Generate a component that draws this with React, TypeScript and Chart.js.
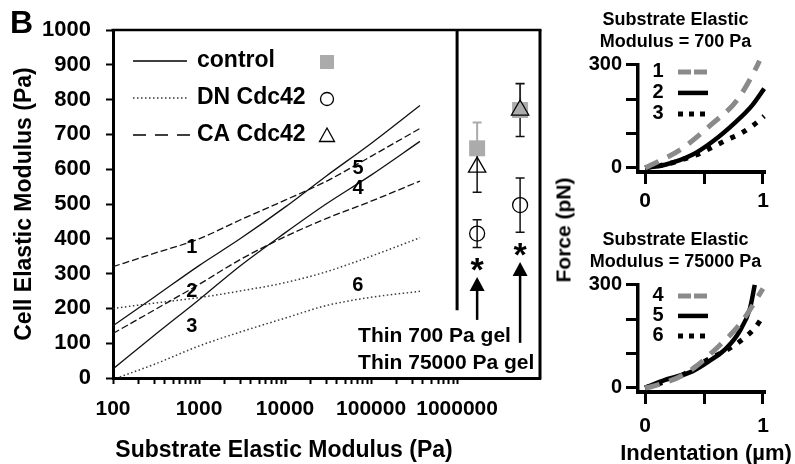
import React, { useEffect, useRef } from "react";
import { Chart, registerables } from "chart.js";

Chart.register(...registerables);

const FONT = "'Liberation Sans', Arial, Helvetica, sans-serif";
const MARKER_GRAY = "#ababab";
const CURVE_GRAY = "#8a8a8a";

// ---------- Main panel: cell modulus vs substrate modulus ----------
const substrateX = [100, 300, 1000, 3000, 10000, 30000, 100000, 370000];
const dnLowerX = [120, 300, 1000, 3000, 10000, 30000, 100000, 370000];
const controlUpper = [150, 232, 323, 400, 491, 580, 674, 783];
const controlLower = [26, 122, 225, 322, 417, 500, 583, 680];
const caUpper = [320, 358, 400, 454, 511, 565, 637, 717];
const caLower = [128, 195, 269, 340, 406, 458, 508, 566];
const dnUpper = [200, 215, 231, 250, 274, 305, 350, 403];
const dnLower = [3, 39, 92, 132, 172, 208, 232, 249];

const gelX = [1.71e6, 5.4e6];
const gelNames = ["Thin 700 Pa gel", "Thin 75000 Pa gel"];
const controlMean = [660, 770];
const controlErr = [74, 75];
const caMean = [606, 770];
const caErr = [72, 76];
const dnMean = [415, 497];
const dnErr = [40, 78];
const starY = [333, 376];
const arrowTipY = [290, 333];
const arrowTailY = [167, 101];
const gelLabelX = 70600;
const gelLabelY = [121, 43];
const dividerX = 1e6;
const dividerBottomY = 195;

const curveLabels = ["1", "2", "3", "4", "5", "6"];
const curveLabelX = [822, 822, 822, 70600, 70600, 70000];
const curveLabelY = [374, 248, 147, 546, 603, 267];

const legendNames = ["control", "DN Cdc42", "CA Cdc42"];

const yTicksMain = [0, 100, 200, 300, 400, 500, 600, 700, 800, 900, 1000];
const xMajor = [100, 1000, 10000, 100000, 1000000];

// ---------- Right panels: force vs indentation ----------
const indentTicks = [0, 0.5, 1];
const indentLabels = [0, 1];
const forceTicks = [0, 100, 200, 300];
const forceLabels = [0, 300];

const ca700X = [0, 0.07, 0.32, 0.57, 0.78, 0.95, 0.97];
const ca700F = [0, 11, 58, 129, 197, 297, 312];
const control700X = [0, 0.17, 0.4, 0.57, 0.77, 0.91, 1.01];
const control700F = [0, 9, 38, 76, 134, 183, 231];
const dn700X = [0, 0.2, 0.35, 0.47, 0.58, 0.69, 0.81, 0.92, 1.01];
const dn700F = [0, 12, 28, 43, 62, 81, 100, 125, 151];

const ca75kX = [0, 0.06, 0.35, 0.62, 0.82, 1.0];
const ca75kF = [0, 4, 43, 120, 193, 289];
const control75kX = [0, 0.17, 0.4, 0.54, 0.69, 0.8, 0.89, 0.93];
const control75kF = [0, 23, 48, 77, 116, 164, 232, 300];
const dn75kX = [0, 0.3, 0.53, 0.64, 0.74, 0.84, 0.93, 1.0];
const dn75kF = [0, 35, 82, 101, 120, 145, 174, 208];

const pts = (xs: number[], ys: number[]) => xs.map((x, i) => ({ x, y: ys[i] }));

const xTickValues: number[] = [];
xMajor.forEach((m, i) => {
  if (i < xMajor.length - 1) {
    for (let d = 1; d <= 9; d++) xTickValues.push(d * m);
  } else {
    xTickValues.push(m);
  }
});

const bold = (size: number, lineHeight?: number) => ({
  family: FONT,
  size,
  weight: "bold" as const,
  ...(lineHeight ? { lineHeight } : {}),
});

function drawMarker(ctx: CanvasRenderingContext2D, kind: string, cx: number, cy: number) {
  ctx.save();
  if (kind === "square") {
    ctx.fillStyle = MARKER_GRAY;
    ctx.fillRect(cx - 7, cy - 7, 14, 14);
  } else if (kind === "circle") {
    ctx.strokeStyle = "#000";
    ctx.lineWidth = 1.3;
    ctx.beginPath();
    ctx.arc(cx, cy, 6.5, 0, Math.PI * 2);
    ctx.stroke();
  } else {
    ctx.strokeStyle = "#000";
    ctx.lineWidth = 1.3;
    ctx.beginPath();
    ctx.moveTo(cx, cy - 8);
    ctx.lineTo(cx + 7.5, cy + 5.5);
    ctx.lineTo(cx - 7.5, cy + 5.5);
    ctx.closePath();
    ctx.stroke();
  }
  ctx.restore();
}

const mainExtras = {
  id: "mainExtras",
  beforeDatasetsDraw(chart: any) {
    const { ctx, scales } = chart;
    const x = scales.x;
    const y = scales.y;
    const bar = (means: number[], errs: number[], color: string, w: number, upOnly: boolean) => {
      ctx.save();
      ctx.strokeStyle = color;
      ctx.lineWidth = w;
      gelX.forEach((gx, i) => {
        const px = x.getPixelForValue(gx);
        const pm = y.getPixelForValue(means[i]);
        const top = y.getPixelForValue(means[i] + errs[i]);
        const bot = upOnly ? pm : y.getPixelForValue(means[i] - errs[i]);
        ctx.beginPath();
        ctx.moveTo(px, top);
        ctx.lineTo(px, bot);
        ctx.moveTo(px - 4.5, top);
        ctx.lineTo(px + 4.5, top);
        if (!upOnly) {
          ctx.moveTo(px - 4.5, bot);
          ctx.lineTo(px + 4.5, bot);
        }
        ctx.stroke();
      });
      ctx.restore();
    };
    bar(controlMean, controlErr, MARKER_GRAY, 2, true);
    bar(caMean, caErr, "#111", 1.5, false);
    bar(dnMean, dnErr, "#111", 1.5, false);
  },
  afterDraw(chart: any) {
    const { ctx, chartArea: a, scales } = chart;
    const x = scales.x;
    const y = scales.y;
    ctx.save();
    ctx.strokeStyle = "#000";
    ctx.fillStyle = "#000";
    // frame top + right
    ctx.lineWidth = 2.5;
    ctx.beginPath();
    ctx.moveTo(a.left - 1.5, a.top);
    ctx.lineTo(a.right + 1.5, a.top);
    ctx.stroke();
    ctx.lineWidth = 3;
    ctx.beginPath();
    ctx.moveTo(a.right, a.top);
    ctx.lineTo(a.right, a.bottom + 1.5);
    ctx.stroke();
    // divider
    const dx = x.getPixelForValue(dividerX);
    ctx.beginPath();
    ctx.moveTo(dx, a.top);
    ctx.lineTo(dx, y.getPixelForValue(dividerBottomY));
    ctx.stroke();

    // arrows
    gelX.forEach((gx, i) => {
      const px = x.getPixelForValue(gx);
      const tip = y.getPixelForValue(arrowTipY[i]);
      const tail = y.getPixelForValue(arrowTailY[i]);
      ctx.lineWidth = 2.5;
      ctx.beginPath();
      ctx.moveTo(px, tail);
      ctx.lineTo(px, tip + 12);
      ctx.stroke();
      ctx.beginPath();
      ctx.moveTo(px, tip);
      ctx.lineTo(px - 7.5, tip + 14);
      ctx.lineTo(px + 7.5, tip + 14);
      ctx.closePath();
      ctx.fill();
      // significance star
      ctx.font = `bold 34px ${FONT}`;
      ctx.textAlign = "center";
      ctx.textBaseline = "alphabetic";
      ctx.fillText("*", px, y.getPixelForValue(starY[i]) + 0.56 * 34);
    });

    // gel labels
    ctx.font = `bold 21px ${FONT}`;
    ctx.textAlign = "left";
    ctx.textBaseline = "middle";
    gelNames.forEach((name, i) => {
      ctx.fillText(name, x.getPixelForValue(gelLabelX), y.getPixelForValue(gelLabelY[i]));
    });

    // curve labels
    ctx.font = `bold 20px ${FONT}`;
    ctx.textAlign = "center";
    curveLabels.forEach((t, i) => {
      ctx.fillText(t, x.getPixelForValue(curveLabelX[i]), y.getPixelForValue(curveLabelY[i]));
    });

    // legend
    const markers = ["square", "circle", "triangle"];
    const dashes = [[], [1.5, 2.5], [13, 9]];
    const rowOffsets = [31, 68, 105];
    legendNames.forEach((name, i) => {
      const ry = a.top + rowOffsets[i];
      ctx.save();
      ctx.strokeStyle = i === 1 ? "#333" : "#000";
      ctx.lineWidth = i === 1 ? 1.6 : 1.5;
      ctx.setLineDash(dashes[i]);
      ctx.beginPath();
      ctx.moveTo(a.left + 20, ry);
      ctx.lineTo(a.left + (i === 2 ? 77 : 74), ry);
      ctx.stroke();
      ctx.restore();
      ctx.font = `bold 23px ${FONT}`;
      ctx.textAlign = "left";
      ctx.textBaseline = "middle";
      ctx.fillText(name, a.left + 84, ry);
      drawMarker(ctx, markers[i], a.left + 214, ry + 1);
    });
    ctx.restore();
  },
};

const lineDs = (xs: number[], ys: number[], kind: "solid" | "dash" | "dot") => ({
  data: pts(xs, ys),
  borderColor: kind === "dot" ? "#3a3a3a" : "#111",
  borderWidth: kind === "dot" ? 1.5 : 1.3,
  borderDash: kind === "dash" ? [7, 3] : kind === "dot" ? [1.5, 2.5] : [],
  pointRadius: 0,
  fill: false,
  cubicInterpolationMode: "monotone" as const,
  order: 3,
});

function mainConfig(): any {
  return {
    type: "line",
    data: {
      datasets: [
        lineDs(substrateX, controlUpper, "solid"),
        lineDs(substrateX, controlLower, "solid"),
        lineDs(substrateX, caUpper, "dash"),
        lineDs(substrateX, caLower, "dash"),
        lineDs(substrateX, dnUpper, "dot"),
        lineDs(dnLowerX, dnLower, "dot"),
        {
          label: "control",
          data: pts(gelX, controlMean),
          showLine: false,
          pointStyle: "rect",
          pointRadius: 11.3,
          backgroundColor: MARKER_GRAY,
          borderColor: MARKER_GRAY,
          borderWidth: 0,
          order: 2,
        },
        {
          label: "CA Cdc42",
          data: pts(gelX, caMean),
          showLine: false,
          pointStyle: "triangle",
          pointRadius: 10,
          backgroundColor: "rgba(0,0,0,0)",
          borderColor: "#000",
          borderWidth: 1.3,
          order: 1,
        },
        {
          label: "DN Cdc42",
          data: pts(gelX, dnMean),
          showLine: false,
          pointStyle: "circle",
          pointRadius: 7.5,
          backgroundColor: "rgba(0,0,0,0)",
          borderColor: "#000",
          borderWidth: 1.3,
          order: 1,
        },
      ],
    },
    options: {
      animation: false,
      responsive: false,
      events: [],
      layout: { padding: { top: 30, right: 20, left: 0, bottom: 0 } },
      plugins: { legend: { display: false }, tooltip: { enabled: false }, title: { display: false } },
      scales: {
        x: {
          type: "logarithmic",
          min: 100,
          max: 9.2e6,
          afterFit: (s: any) => {
            s.height = 86;
          },
          afterBuildTicks: (s: any) => {
            s.ticks = xTickValues.map((v) => ({ value: v }));
          },
          ticks: {
            autoSkip: false,
            maxRotation: 0,
            minRotation: 0,
            padding: 13,
            color: "#000",
            font: bold(21),
            callback: (v: any) => (xMajor.includes(Number(v)) ? String(v) : ""),
          },
          grid: {
            display: true,
            drawOnChartArea: false,
            drawTicks: true,
            tickLength: 6,
            tickWidth: 2,
            color: "#000",
            tickColor: "#000",
          },
          border: { display: true, color: "#000", width: 3 },
        },
        y: {
          type: "linear",
          min: 0,
          max: 1000,
          afterFit: (s: any) => {
            s.width = 113;
          },
          afterBuildTicks: (s: any) => {
            s.ticks = yTicksMain.map((v) => ({ value: v }));
          },
          ticks: { padding: 15, color: "#000", font: bold(22), callback: (v: any) => String(v) },
          grid: {
            display: true,
            drawOnChartArea: false,
            drawTicks: true,
            tickLength: 7,
            tickWidth: 2,
            color: "#000",
            tickColor: "#000",
          },
          border: { display: true, color: "#000", width: 3 },
          title: {
            display: true,
            text: "Cell Elastic Modulus (Pa)",
            color: "#000",
            font: bold(23),
            padding: { top: 11, bottom: 0 },
          },
        },
      },
    },
    plugins: [mainExtras],
  };
}

const panelLegend = {
  id: "panelLegend",
  afterDraw(chart: any, _args: any, opts: any) {
    const { ctx, chartArea: a } = chart;
    ctx.save();
    const labels: string[] = opts.labels || [];
    const rows: number[] = opts.rows || [];
    const sampleDash = [[13, 3], [], [5, 6]];
    labels.forEach((t, i) => {
      const ds = chart.data.datasets[i];
      const ry = a.top + rows[i];
      ctx.fillStyle = "#000";
      ctx.font = `bold 20px ${FONT}`;
      ctx.textAlign = "center";
      ctx.textBaseline = "middle";
      ctx.fillText(t, a.left + 20, ry);
      ctx.strokeStyle = ds.borderColor;
      ctx.lineWidth = ds.borderWidth;
      ctx.lineCap = "butt";
      ctx.setLineDash(sampleDash[i]);
      ctx.beginPath();
      ctx.moveTo(a.left + 40, ry);
      ctx.lineTo(a.left + 70, ry);
      ctx.stroke();
      ctx.setLineDash([]);
    });
    ctx.restore();
  },
};

function panelConfig(p: {
  title: string[];
  height: number;
  ca: { x: number[]; f: number[] };
  control: { x: number[]; f: number[] };
  dn: { x: number[]; f: number[] };
  labels: string[];
  rows: number[];
  xLabelPad: number;
}): any {
  const common = { pointRadius: 0, fill: false, cubicInterpolationMode: "monotone" as const, clip: false };
  return {
    type: "line",
    data: {
      datasets: [
        { ...common, data: pts(p.ca.x, p.ca.f), borderColor: CURVE_GRAY, borderWidth: 5, borderDash: [15, 10] },
        { ...common, data: pts(p.control.x, p.control.f), borderColor: "#000", borderWidth: 4.5 },
        { ...common, data: pts(p.dn.x, p.dn.f), borderColor: "#000", borderWidth: 5, borderDash: [5, 8] },
      ],
    },
    options: {
      animation: false,
      responsive: false,
      events: [],
      layout: { padding: { left: 0, right: 30, top: 0, bottom: 0 } },
      plugins: {
        legend: { display: false },
        tooltip: { enabled: false },
        title: {
          display: true,
          text: p.title,
          color: "#000",
          font: bold(18, 1.22),
          padding: { top: 9, bottom: 12 },
        },
        panelLegend: { labels: p.labels, rows: p.rows },
      },
      scales: {
        x: {
          type: "linear",
          min: -0.06,
          max: 1.017,
          afterFit: (s: any) => {
            s.height = p.height - 172;
          },
          afterBuildTicks: (s: any) => {
            s.ticks = indentTicks.map((v) => ({ value: v }));
          },
          ticks: {
            autoSkip: false,
            maxRotation: 0,
            padding: p.xLabelPad,
            color: "#000",
            font: bold(21),
            callback: (v: any) => (indentLabels.includes(Number(v)) ? String(v) : ""),
          },
          grid: {
            display: true,
            drawOnChartArea: false,
            drawTicks: true,
            tickLength: 12,
            tickWidth: 3,
            color: "#000",
            tickColor: "#000",
          },
          border: { display: true, color: "#000", width: 4 },
        },
        y: {
          type: "linear",
          min: -12,
          max: 300,
          afterFit: (s: any) => {
            s.width = 52;
          },
          afterBuildTicks: (s: any) => {
            s.ticks = forceTicks.map((v) => ({ value: v }));
          },
          ticks: {
            padding: 4,
            color: "#000",
            font: bold(20),
            callback: (v: any) => (forceLabels.includes(Number(v)) ? String(v) : ""),
          },
          grid: {
            display: true,
            drawOnChartArea: false,
            drawTicks: true,
            tickLength: 12,
            tickWidth: 3,
            color: "#000",
            tickColor: "#000",
          },
          border: { display: true, color: "#000", width: 3.5 },
        },
      },
    },
    plugins: [panelLegend],
  };
}

export default function App() {
  const mainRef = useRef<HTMLCanvasElement>(null);
  const topRef = useRef<HTMLCanvasElement>(null);
  const botRef = useRef<HTMLCanvasElement>(null);

  useEffect(() => {
    const charts: Chart[] = [];
    if (mainRef.current) charts.push(new Chart(mainRef.current, mainConfig()));
    if (topRef.current)
      charts.push(
        new Chart(
          topRef.current,
          panelConfig({
            title: ["Substrate Elastic", "Modulus = 700 Pa"],
            height: 220,
            ca: { x: ca700X, f: ca700F },
            control: { x: control700X, f: control700F },
            dn: { x: dn700X, f: dn700F },
            labels: ["1", "2", "3"],
            rows: [7, 28, 49],
            xLabelPad: 5,
          })
        )
      );
    if (botRef.current)
      charts.push(
        new Chart(
          botRef.current,
          panelConfig({
            title: ["Substrate Elastic", "Modulus = 75000 Pa"],
            height: 244,
            ca: { x: ca75kX, f: ca75kF },
            control: { x: control75kX, f: control75kF },
            dn: { x: dn75kX, f: dn75kF },
            labels: ["4", "5", "6"],
            rows: [11, 31, 51],
            xLabelPad: 10,
          })
        )
      );
    return () => charts.forEach((c) => c.destroy());
  }, []);

  const textStyle: React.CSSProperties = {
    position: "absolute",
    fontFamily: FONT,
    fontWeight: "bold",
    color: "#000",
    whiteSpace: "nowrap",
    lineHeight: 1,
  };

  return (
    <div
      style={{
        position: "absolute",
        left: 0,
        top: 0,
        width: 795,
        height: 464,
        background: "#fff",
        overflow: "hidden",
      }}
    >
      <canvas ref={mainRef} width={560} height={464} style={{ position: "absolute", left: 0, top: 0 }} />
      <canvas ref={topRef} width={209} height={220} style={{ position: "absolute", left: 586, top: 0 }} />
      <canvas ref={botRef} width={209} height={244} style={{ position: "absolute", left: 586, top: 220 }} />
      <div style={{ ...textStyle, left: 10, top: 6, fontSize: 32 }}>B</div>
      <div
        style={{
          ...textStyle,
          left: 284,
          top: 449,
          fontSize: 23,
          transform: "translate(-50%, -50%)",
        }}
      >
        Substrate Elastic Modulus (Pa)
      </div>
      <div
        style={{
          ...textStyle,
          left: 563,
          top: 230,
          fontSize: 21,
          transform: "translate(-50%, -50%) rotate(-90deg)",
        }}
      >
        Force (pN)
      </div>
      <div
        style={{
          ...textStyle,
          left: 706,
          top: 453,
          fontSize: 22,
          transform: "translate(-50%, -50%)",
        }}
      >
        Indentation (µm)
      </div>
    </div>
  );
}
